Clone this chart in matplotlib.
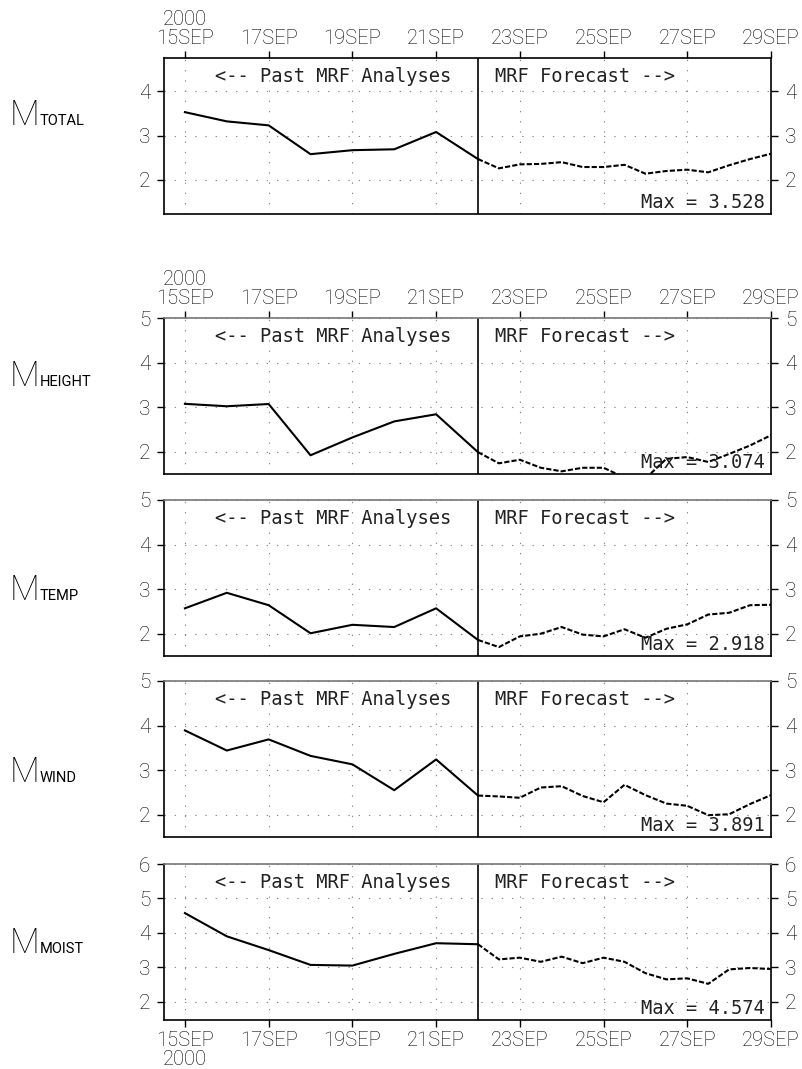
import numpy as np
import matplotlib
matplotlib.use("Agg")
import matplotlib.pyplot as plt

# days of September 2000: daily analyses, 12-hourly forecasts
days_past = [15, 16, 17, 18, 19, 20, 21, 22]
days_fcst = [22, 22.5, 23, 23.5, 24, 24.5, 25, 25.5, 26, 26.5, 27, 27.5, 28, 28.5, 29]

total_past = [3.528, 3.32, 3.23, 2.58, 2.67, 2.69, 3.08, 2.47]
total_fcst = [2.47, 2.26, 2.35, 2.36, 2.40, 2.29, 2.29, 2.34, 2.14, 2.20, 2.23, 2.17, 2.33, 2.47, 2.59]

height_past = [3.074, 3.02, 3.07, 1.92, 2.32, 2.68, 2.84, 1.99]
height_fcst = [1.99, 1.74, 1.82, 1.64, 1.56, 1.64, 1.64, 1.42, 1.40, 1.84, 1.88, 1.77, 1.95, 2.14, 2.37]

temp_past = [2.57, 2.918, 2.64, 2.01, 2.20, 2.15, 2.57, 1.86]
temp_fcst = [1.86, 1.70, 1.94, 2.00, 2.15, 1.98, 1.94, 2.10, 1.91, 2.11, 2.21, 2.43, 2.47, 2.64, 2.65]

wind_past = [3.891, 3.44, 3.69, 3.32, 3.13, 2.55, 3.24, 2.43]
wind_fcst = [2.43, 2.41, 2.38, 2.61, 2.64, 2.42, 2.28, 2.67, 2.44, 2.25, 2.20, 1.99, 2.01, 2.24, 2.44]

moist_past = [4.574, 3.90, 3.50, 3.07, 3.05, 3.39, 3.70, 3.67]
moist_fcst = [3.67, 3.23, 3.28, 3.16, 3.31, 3.12, 3.28, 3.16, 2.83, 2.65, 2.68, 2.52, 2.94, 2.98, 2.95]

names = ["TOTAL", "HEIGHT", "TEMP", "WIND", "MOIST"]
past = [total_past, height_past, temp_past, wind_past, moist_past]
fcst = [total_fcst, height_fcst, temp_fcst, wind_fcst, moist_fcst]
ylims = [(1.23, 4.75), (1.5, 5), (1.5, 5), (1.5, 5), (1.47, 6)]

xticks = [15, 17, 19, 21, 23, 25, 27, 29]
xlabels = ["15SEP", "17SEP", "19SEP", "21SEP", "23SEP", "25SEP", "27SEP", "29SEP"]

# panel layout in pixels
W, H = 803, 1069
left_px, right_px = 164, 771
tops_px = [58, 318, 500, 681, 864]
panel_h = 156
label_base_px = [125, 386, 600, 782, 953]

tick_font = ["Roboto", "DejaVu Sans"]
note_font = "DejaVu Sans Mono"

fig = plt.figure(figsize=(W / 100, H / 100), dpi=100)

for i in range(5):
    top = tops_px[i]
    ax = fig.add_axes([left_px / W, 1 - (top + panel_h) / H,
                       (right_px - left_px) / W, panel_h / H])
    lo, hi = ylims[i]
    ax.set_xlim(14.5, 29)
    ax.set_ylim(lo, hi)

    # dotted grid
    for d in [15, 17, 19, 21, 23, 25, 27]:
        ax.axvline(d, color="#888888", lw=0.8, dashes=(1.2, 8))
    yt = [v for v in range(2, 7) if lo <= v <= hi]
    for v in yt:
        ax.axhline(v, color="#888888", lw=0.8, dashes=(1.2, 8))

    ax.axvline(22, color="black", lw=1.2)
    ax.plot(days_past, past[i], color="black", lw=1.5)
    ax.plot(days_fcst, fcst[i], color="black", lw=1.5, dashes=(2.5, 1))

    ax.text(18.53, 1 - 24 / panel_h, "<-- Past MRF Analyses", transform=ax.get_xaxis_transform(),
            ha="center", va="baseline", family=note_font, fontsize=13.5, color="#222222")
    ax.text(24.56, 1 - 24 / panel_h, "MRF Forecast -->", transform=ax.get_xaxis_transform(),
            ha="center", va="baseline", family=note_font, fontsize=13.5, color="#222222")
    vmax = max(past[i] + fcst[i])
    ax.text(0.99, 6 / panel_h, f"Max = {vmax:.3f}", transform=ax.transAxes,
            ha="right", va="baseline", family=note_font, fontsize=13.5, color="#222222")

    # y axis on both sides
    ax.set_yticks(yt)
    ax.set_yticklabels([str(v) for v in yt], family=tick_font, fontweight="light", fontsize=15)
    ax.tick_params(axis="y", which="both", direction="out", length=5, width=1,
                   left=True, right=True, labelleft=True, labelright=True, pad=5)

    # x axis: labels on top for the first two panels, bottom for the last
    ax.set_xticks(xticks)
    if i in (0, 1):
        labs = ["2000\n15SEP"] + xlabels[1:]
        ax.set_xticklabels(labs, family=tick_font, fontweight="light", fontsize=14.5, linespacing=1.0)
        ax.tick_params(axis="x", direction="out", length=5, width=1, top=True, bottom=False,
                       labeltop=True, labelbottom=False, pad=2)
    elif i == 4:
        labs = ["15SEP\n2000"] + xlabels[1:]
        ax.set_xticklabels(labs, family=tick_font, fontweight="light", fontsize=14.5, linespacing=1.0)
        ax.tick_params(axis="x", direction="out", length=5, width=1, top=False, bottom=True,
                       labeltop=False, labelbottom=True, pad=3)
    else:
        ax.tick_params(axis="x", top=False, bottom=False, labeltop=False, labelbottom=False)
    for lab in ax.get_xticklabels():
        lab.set_multialignment("center")

    for s in ax.spines.values():
        s.set_linewidth(1.2)
    if i > 0:
        ax.spines["top"].set_color("#777777")

    # panel label M with subscript
    yb = 1 - label_base_px[i] / H
    fig.text(10 / W, yb, "M", family=tick_font, fontweight="light", fontsize=25, va="baseline", ha="left")
    fig.text(40 / W, yb, names[i], family=tick_font, fontsize=10.5, va="baseline", ha="left")

fig.savefig("out.png", dpi=100)
